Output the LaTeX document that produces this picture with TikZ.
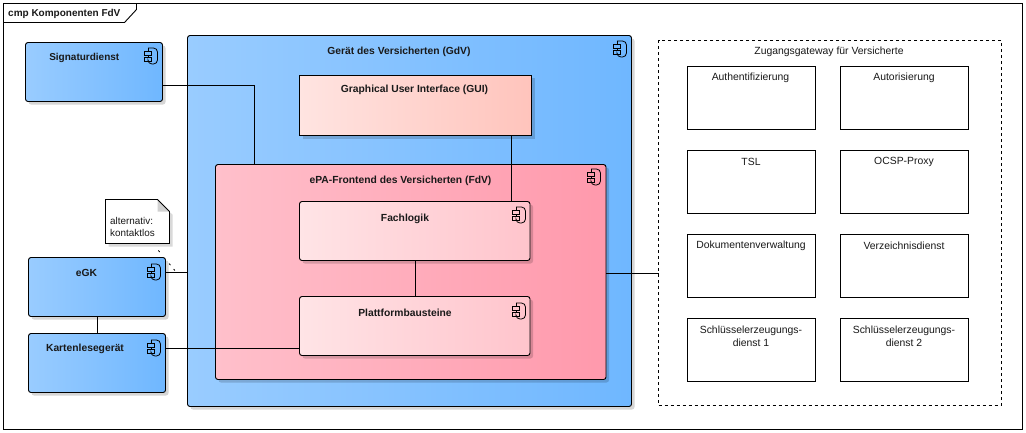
\documentclass[tikz,border=0pt]{standalone}
\usepackage{fontspec}
\setmainfont{Liberation Sans}
\usetikzlibrary{shadows}
\definecolor{blueL}{HTML}{99CCFF}
\definecolor{blueR}{HTML}{6FB7FF}
\definecolor{pinkL}{HTML}{FFC0CB}
\definecolor{pinkR}{HTML}{FF99AC}
\definecolor{paleL}{HTML}{FFE4E6}
\definecolor{paleR}{HTML}{FFC4CC}
\definecolor{guiL}{HTML}{FFE4E1}
\definecolor{guiR}{HTML}{FFC4BC}
\tikzset{
  x=1pt,y=-1pt,
  shad/.style={drop shadow={shadow xshift=3pt,shadow yshift=-3pt,fill=black,opacity=.16}},
  comp/.style={draw=black,line width=.9pt,rounded corners=2.5pt,shad,anchor=north west,inner sep=0pt,outer sep=0pt},
  bluebox/.style={comp,left color=blueL,right color=blueR},
  pinkbox/.style={comp,left color=pinkL,right color=pinkR},
  palebox/.style={comp,left color=paleL,right color=paleR},
  guibox/.style={comp,rounded corners=0pt,left color=guiL,right color=guiR},
  whitebox/.style={draw=black,line width=.9pt,fill=white,anchor=north west,inner sep=0pt,outer sep=0pt,minimum width=128pt,minimum height=63pt},
  bold/.style={font=\fontsize{10.3}{13}\selectfont\bfseries,inner sep=0pt,align=center,text=black!90,yshift=-1.2pt},
  boldsmall/.style={bold,font=\fontsize{10}{13}\selectfont\bfseries},
  plain/.style={font=\fontsize{10.4}{12.6}\selectfont,inner sep=0pt,align=center,text=black!90,yshift=-1.2pt},
  notetxt/.style={font=\fontsize{9.9}{12}\selectfont,inner sep=0pt,align=left,text=black!90,yshift=-1.2pt},
  wire/.style={draw=black,line width=.9pt},
  iconline/.style={draw=black,line width=.8pt}
}
\newcommand{\compicon}[2]{%
  \draw[iconline,fill=none,rounded corners=4pt] (#1+4,#2) -- (#1+13.5,#2) -- (#1+13.5,#2+16) -- (#1+4,#2+16) -- (#1+4,#2+13);
  \draw[iconline] (#1+4,#2) -- (#1+4,#2+3);
  \draw[iconline] (#1+4,#2+7) -- (#1+4,#2+9);
  \draw[iconline] (#1,#2+3) rectangle (#1+7,#2+7);
  \draw[iconline] (#1,#2+9) rectangle (#1+7,#2+13);
}
\begin{document}
\begin{tikzpicture}
\useasboundingbox (0,0) rectangle (1026,432);
\fill[white] (0,0) rectangle (1026,432);
% frame
\draw[wire] (3.5,3.5) rectangle (1022.5,429.5);
\draw[wire,fill=white] (3.5,3.5) -- (136.5,3.5) -- (136.5,9.5) -- (124.5,22.5) -- (3.5,22.5) -- cycle;
\node[boldsmall,anchor=west] (title) at (8,13) {cmp Komponenten FdV};

% note connector goes behind the boxes
\coordinate (noteanchor) at (152.7,243.5);
\coordinate (notetarget) at (176.5,272.5);
\draw[line width=.8pt,dash pattern=on 0pt off 9pt on 2pt off 15pt on 2pt off 5pt on 2pt off 100pt] (noteanchor) -- (notetarget);

% boxes
\node[bluebox,minimum width=137pt,minimum height=59pt] (sig) at (25.5,42.5) {};
\node[bluebox,minimum width=444pt,minimum height=371pt] (gdv) at (187.5,35.5) {};
\node[guibox,minimum width=232pt,minimum height=60.5pt] (gui) at (299.5,75) {};
\node[pinkbox,minimum width=390.5pt,minimum height=215pt] (fdv) at (215.5,164.5) {};
\node[palebox,minimum width=230.5pt,minimum height=59pt] (fach) at (299.5,201.5) {};
\node[palebox,minimum width=230.5pt,minimum height=59pt] (platt) at (299.5,296.5) {};
\node[bluebox,minimum width=137pt,minimum height=59pt] (egk) at (28.5,257.5) {};
\node[bluebox,minimum width=137pt,minimum height=59pt] (kart) at (28.5,333.5) {};
\node[draw=black,line width=.9pt,dash pattern=on 3pt off 3pt,anchor=north west,inner sep=0pt,outer sep=0pt,minimum width=343pt,minimum height=364.5pt] (zug) at (658.5,40.5) {};

\node[whitebox] (auth) at (687.5,66.5) {};
\node[whitebox] (auto) at (840.5,66.5) {};
\node[whitebox] (tsl) at (687.5,150.5) {};
\node[whitebox] (ocsp) at (840.5,150.5) {};
\node[whitebox] (dok) at (687.5,234.5) {};
\node[whitebox] (verz) at (840.5,234.5) {};
\node[whitebox] (sk1) at (687.5,318.5) {};
\node[whitebox] (sk2) at (840.5,318.5) {};

% note
\node[anchor=north west,minimum width=64pt,minimum height=44pt,inner sep=0pt,outer sep=0pt] (note) at (105.5,199.5) {};
\fill[black,opacity=.15] (158,202.5) -- (172.5,214.5) -- (172.5,246.5) -- (108.5,246.5) -- (108.5,243.5) -- (169.5,243.5) -- (169.5,211.5) -- cycle;
\fill[white] (note.north west) -- ([xshift=-12pt]note.north east) -- ([yshift=-12pt]note.north east) -- (note.south east) -- (note.south west) -- cycle;
\fill[black!18] ([xshift=-12pt]note.north east) -- ([xshift=-12pt,yshift=-12pt]note.north east) -- ([yshift=-12pt]note.north east) -- cycle;
\draw[wire] (note.north west) -- ([xshift=-12pt]note.north east) -- ([yshift=-12pt]note.north east) -- (note.south east) -- (note.south west) -- cycle;
\node[notetxt,anchor=west] (notetext) at (110,226) {alternativ:\\kontaktlos};

% connectors
\draw[wire] (sig.east |- 0,85) -- (254.5,85) -- (254.5,164.5);
\draw[wire] (gui.south -| 511.5,0) -- (fach.north -| 511.5,0);
\draw[wire] (fach.south -| 415.5,0) -- (platt.north -| 415.5,0);
\draw[wire] (egk.east |- 0,272) -- (gdv.west |- 0,272);
\draw[wire] (egk.south -| 97.5,0) -- (kart.north -| 97.5,0);
\draw[wire] (kart.east |- 0,348.5) -- (platt.west |- 0,348.5);
\draw[wire] (fdv.east |- 0,273.5) -- (zug.west |- 0,273.5);

% icons
\compicon{144}{48}
\compicon{613}{41}
\compicon{587}{169}
\compicon{512}{207}
\compicon{512}{303}
\compicon{147}{264}
\compicon{147}{340}

% labels
\node[boldsmall] (sigt) at (84.3,57) {Signaturdienst};
\node[bold] (gdvt) at (399,51) {Gerät des Versicherten (GdV)};
\node[bold] (guit) at (414.5,89) {Graphical User Interface (GUI)};
\node[bold] (fdvt) at (400.5,179.5) {ePA-Frontend des Versicherten (FdV)};
\node[bold] (facht) at (405,217.5) {Fachlogik};
\node[bold] (plattt) at (405,312) {Plattformbausteine};
\node[bold] (egkt) at (86.5,272) {eGK};
\node[bold] (kartt) at (85,348) {Kartenlesegerät};
\node[plain] (zugt) at (829,51) {Zugangsgateway für Versicherte};
\node[plain] (autht) at (750.5,77) {Authentifizierung};
\node[plain] (autot) at (904,77) {Autorisierung};
\node[plain] (tslt) at (751,161) {TSL};
\node[plain] (ocspt) at (904,161) {OCSP-Proxy};
\node[plain] (dokt) at (751,245) {Dokumentenverwaltung};
\node[plain] (verzt) at (904,245) {Verzeichnisdienst};
\node[plain,anchor=north] (sk1t) at (751,325) {Schlüsselerzeugungs-\\dienst 1};
\node[plain,anchor=north] (sk2t) at (904,325) {Schlüsselerzeugungs-\\dienst 2};
\end{tikzpicture}
\end{document}
